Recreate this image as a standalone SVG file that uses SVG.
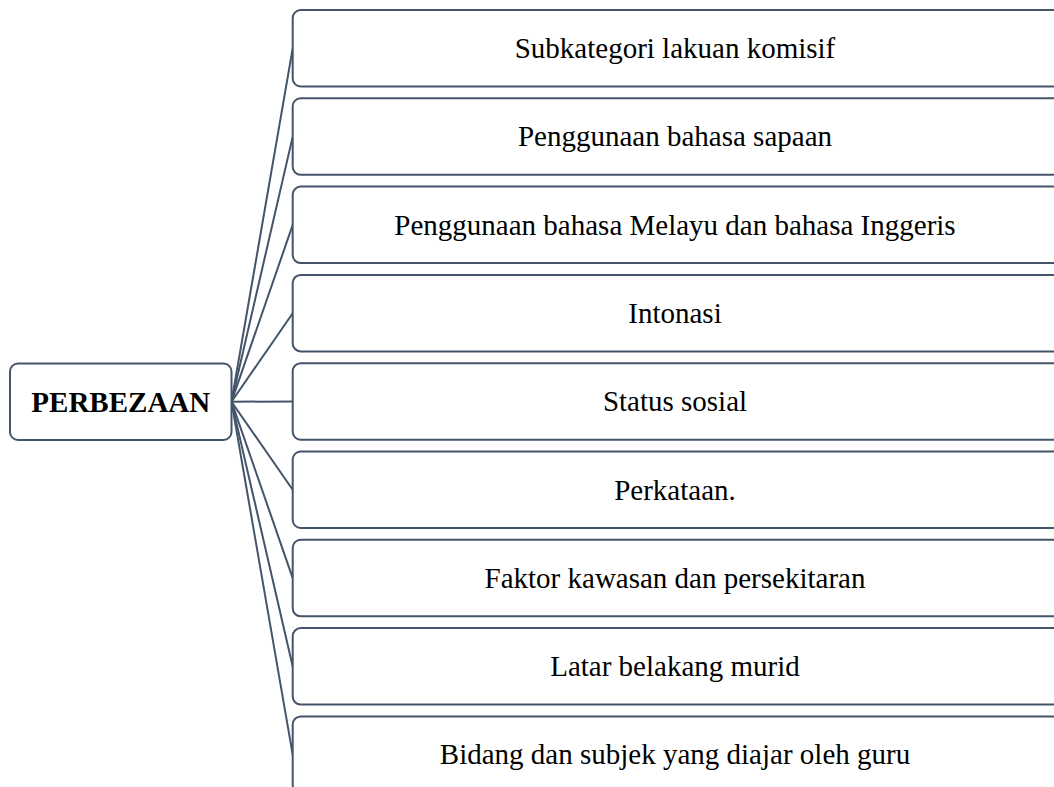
<svg xmlns="http://www.w3.org/2000/svg" width="1054" height="787" viewBox="0 0 1054 787">
<style>
.box{fill:#fff;stroke:#44546A;stroke-width:2}
.conn{stroke:#44546A;stroke-width:2;fill:none}
.t{font-family:"Liberation Serif","Times New Roman",serif;font-size:29px;fill:#000;text-anchor:middle}
.b{font-weight:bold}
</style>
<rect width="1054" height="787" fill="#fff"/>
<g id="connectors">
<line class="conn" x1="231.5" y1="401.7" x2="292.7" y2="48.3"/>
<line class="conn" x1="231.5" y1="401.7" x2="292.7" y2="136.6"/>
<line class="conn" x1="231.5" y1="401.7" x2="292.7" y2="224.9"/>
<line class="conn" x1="231.5" y1="401.7" x2="292.7" y2="313.2"/>
<line class="conn" x1="231.5" y1="401.7" x2="292.7" y2="401.5"/>
<line class="conn" x1="231.5" y1="401.7" x2="292.7" y2="489.8"/>
<line class="conn" x1="231.5" y1="401.7" x2="292.7" y2="578.1"/>
<line class="conn" x1="231.5" y1="401.7" x2="292.7" y2="666.4"/>
<line class="conn" x1="231.5" y1="401.7" x2="292.7" y2="754.7"/>
</g>
<g id="root">
<rect class="box" x="10" y="363.5" width="221.5" height="76.5" rx="8"/>
<text class="t b" x="120.8" y="411.8">PERBEZAAN</text>
</g>
<g id="n1">
<rect class="box" x="292.7" y="10" width="800" height="76.5" rx="8"/>
<text class="t" x="675" y="58">Subkategori lakuan komisif</text>
</g>
<g id="n2">
<rect class="box" x="292.7" y="98.3" width="800" height="76.5" rx="8"/>
<text class="t" x="675" y="146.3">Penggunaan bahasa sapaan</text>
</g>
<g id="n3">
<rect class="box" x="292.7" y="186.6" width="800" height="76.5" rx="8"/>
<text class="t" x="675" y="234.6">Penggunaan bahasa Melayu dan bahasa Inggeris</text>
</g>
<g id="n4">
<rect class="box" x="292.7" y="274.9" width="800" height="76.5" rx="8"/>
<text class="t" x="675" y="322.9">Intonasi</text>
</g>
<g id="n5">
<rect class="box" x="292.7" y="363.2" width="800" height="76.5" rx="8"/>
<text class="t" x="675" y="411.2">Status sosial</text>
</g>
<g id="n6">
<rect class="box" x="292.7" y="451.5" width="800" height="76.5" rx="8"/>
<text class="t" x="675" y="499.5">Perkataan.</text>
</g>
<g id="n7">
<rect class="box" x="292.7" y="539.8" width="800" height="76.5" rx="8"/>
<text class="t" x="675" y="587.8">Faktor kawasan dan persekitaran</text>
</g>
<g id="n8">
<rect class="box" x="292.7" y="628.1" width="800" height="76.5" rx="8"/>
<text class="t" x="675" y="676.1">Latar belakang murid</text>
</g>
<g id="n9">
<rect class="box" x="292.7" y="716.4" width="800" height="76.5" rx="8"/>
<text class="t" x="675" y="764.4">Bidang dan subjek yang diajar oleh guru</text>
</g>
</svg>
